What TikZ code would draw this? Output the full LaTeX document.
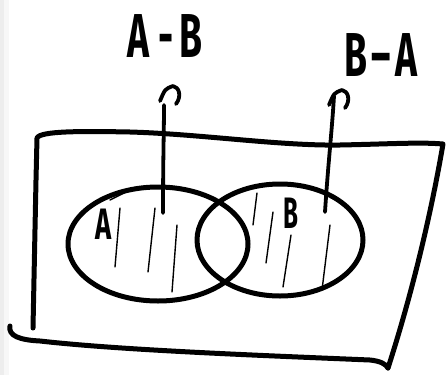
\documentclass[tikz,border=0pt]{standalone}
\usepackage{fontspec}
\setmainfont{Fira Sans}
\tikzset{
  ink/.style={line width=5pt, line cap=round, line join=round, black},
  hatch/.style={line width=1.4pt, line cap=round, black},
  upline/.style={line width=3.8pt, line cap=round, line join=round, black},
  bigtxt/.style={font=\fontsize{62}{62}\selectfont\bfseries, inner sep=0pt},
  midtxt/.style={font=\fontsize{44}{44}\selectfont\bfseries, inner sep=0pt}
}
\begin{document}
\begin{tikzpicture}[x=1pt,y=-1pt]
\useasboundingbox (0,0) rectangle (446,375);
\fill[white] (0,0) rectangle (446,375);
\fill[black!7] (0,0) rectangle (4,375);
\fill[black!3] (4,0) rectangle (9,375);
% universe rectangle (hand drawn)
\draw[ink] (33,328) -- (36,180) -- (37,138)
  .. controls (40,131) and (80,131) .. (130,132)
  .. controls (200,134) and (280,146) .. (340,145)
  .. controls (390,144) and (420,142) .. (443,144)
  .. controls (430,220) and (410,300) .. (388,368);
\draw[ink] (10,326) .. controls (8,336) and (20,340) .. (40,341)
  .. controls (120,350) and (250,355) .. (370,360)
  .. controls (380,361) and (386,364) .. (388,368);
% sets
\draw[ink] (158,244) ellipse[x radius=90, y radius=57];
\draw[ink] (280,240) ellipse[x radius=83, y radius=56];
\draw[hatch] (110,200) -- (130,190);
% hatching in A
\draw[hatch] (120,208) -- (115,267);
\draw[hatch] (155,208) -- (148,272);
\draw[hatch] (177,225) -- (172,292);
% hatching in B
\draw[hatch] (257,193) -- (253,225);
\draw[hatch] (273,212) -- (266,263);
\draw[hatch] (291,235) -- (283,287);
\draw[hatch] (330,225) -- (322,290);
% labels
\node[midtxt] (la) at (104,224) {\scalebox{0.62}[1]{A}};
\node[midtxt] (lb) at (291,213) {\scalebox{0.55}[1]{B}};
\node[bigtxt] (amb) at (165,36) {\scalebox{0.6}[1]{A\hspace{14pt}-\hspace{10pt}B}};
\node[bigtxt] (bma) at (381,55) {\scalebox{0.6}[1]{B\hspace{8pt}–\hspace{8pt}A}};
% arrows
\coordinate (sa) at (163,213);
\coordinate (ta) at (173,86);
\coordinate (sb) at (325,212);
\coordinate (tb) at (342,90);
\draw[upline] (sa) .. controls (163,160) and (164,130) .. ([shift={(-9,19)}]ta);
\draw[upline] (sb) .. controls (328,165) and (332,130) .. ([shift={(-8,6)}]tb);
\foreach \t in {ta,tb}{
  \draw[upline] ([shift={(-13,15)}]\t) .. controls ([shift={(-8,3)}]\t) .. (\t)
    .. controls ([shift={(6,1)}]\t) and ([shift={(9,10)}]\t) .. ([shift={(3,18)}]\t);
}
\end{tikzpicture}
\end{document}
